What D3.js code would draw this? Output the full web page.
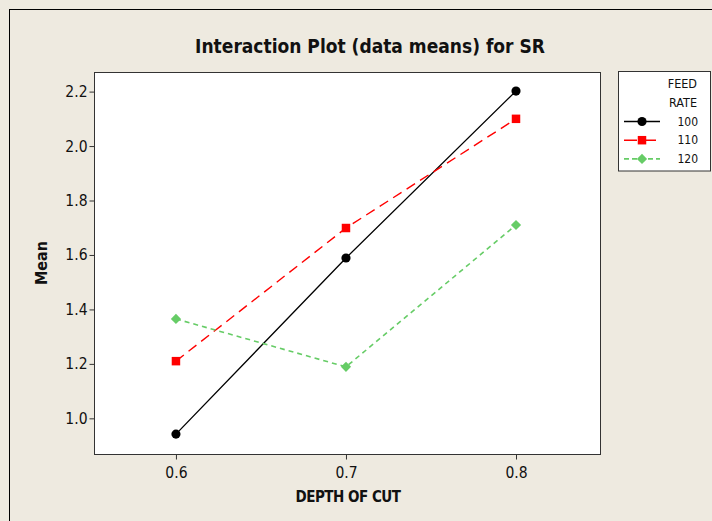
<!DOCTYPE html>
<html>
<head>
<meta charset="utf-8">
<script src="https://cdn.jsdelivr.net/npm/d3@7"></script>
<style>
  body { margin: 0; background: #eeeae0; }
  svg { display: block; }
  text { font-family: "DejaVu Sans Condensed", "DejaVu Sans", sans-serif; fill: #111; }
</style>
</head>
<body>
<svg id="chart" width="712" height="521"></svg>
<script>
// data
const depths = [0.6, 0.7, 0.8];
const feedRates = ["100", "110", "120"];
const mean100 = [0.942, 1.589, 2.202];
const mean110 = [1.21, 1.699, 2.10];
const mean120 = [1.365, 1.189, 1.71];
const yTicks = [1.0, 1.2, 1.4, 1.6, 1.8, 2.0, 2.2];

const series = [
    { name: feedRates[0], values: mean100, color: "#000", dash: null, legendDash: null, shape: d3.symbolCircle, size: 66, rot: 0, width: 1.3 },
    { name: feedRates[1], values: mean110, color: "#ff0000", dash: "10,6", legendDash: "13,6", shape: d3.symbolSquare, size: 72, rot: 0, width: 1.4 },
    { name: feedRates[2], values: mean120, color: "#66cc66", dash: "5,4", legendDash: "5,3", shape: d3.symbolSquare, size: 52, rot: 45, width: 1.6 }
];

const svg = d3.select("#chart");
const plot = { left: 94, top: 72, right: 600, bottom: 454 };

// outer frame
svg.append("rect")
    .attr("x", 9.5).attr("y", 9.5)
    .attr("width", 712).attr("height", 521)
    .attr("fill", "#eeeae0").attr("stroke", "#000");

var x = d3.scaleLinear().domain([0.5518, 0.8494]).range([plot.left, plot.right]);
var y = d3.scaleLinear().domain([0.869, 2.272]).range([plot.bottom, plot.top]);

svg.append("rect")
    .attr("x", plot.left + 0.5).attr("y", plot.top + 0.5)
    .attr("width", plot.right - plot.left).attr("height", plot.bottom - plot.top)
    .attr("fill", "#fff").attr("stroke", "#333");

// axes
const xAxis = svg.append("g")
    .attr("transform", "translate(0," + (plot.bottom + 0.5) + ")")
    .call(d3.axisBottom(x).tickValues(depths).tickFormat(d3.format(".1f")).tickSize(5).tickSizeOuter(0));
const yAxis = svg.append("g")
    .attr("transform", "translate(" + (plot.left + 0.5) + ",0)")
    .call(d3.axisLeft(y).tickValues(yTicks).tickFormat(d3.format(".1f")).tickSize(5).tickSizeOuter(0));
[xAxis, yAxis].forEach(g => {
    g.attr("font-size", null).attr("font-family", null);
    g.select(".domain").remove();
    g.selectAll("line").attr("stroke", "#333");
    g.selectAll("text").style("font-size", "15.5px").attr("fill", "#222");
});
xAxis.selectAll("text").attr("dy", "1.0em");
yAxis.selectAll("text").attr("x", -7);

// titles
svg.append("text")
    .attr("x", 370).attr("y", 53)
    .attr("text-anchor", "middle")
    .style("font-size", "19px").style("font-weight", "bold")
    .text("Interaction Plot (data means) for SR");
svg.append("text")
    .attr("x", (plot.left + plot.right) / 2 + 1).attr("y", 502)
    .attr("text-anchor", "middle")
    .style("font-size", "15px").style("font-weight", "bold").style("letter-spacing", "-0.5px")
    .text("DEPTH OF CUT");
svg.append("text")
    .attr("transform", "translate(47," + (plot.top + plot.bottom) / 2 + ") rotate(-90)")
    .attr("text-anchor", "middle")
    .style("font-size", "16px").style("font-weight", "bold")
    .text("Mean");

// lines and markers
const line = d3.line().x((d, i) => x(depths[i])).y(d => y(d));
series.forEach(s => {
    svg.append("path")
        .attr("d", line(s.values))
        .attr("fill", "none")
        .attr("stroke", s.color)
        .attr("stroke-width", s.width)
        .attr("stroke-dasharray", s.dash);
    svg.selectAll(null)
        .data(s.values)
        .enter().append("path")
        .attr("transform", (d, i) => "translate(" + x(depths[i]) + "," + y(d) + ") rotate(" + s.rot + ")")
        .attr("d", d3.symbol().type(s.shape).size(s.size))
        .attr("fill", s.color);
});

// legend
const legend = svg.append("g");
legend.append("rect")
    .attr("x", 618.5).attr("y", 71.5).attr("width", 92).attr("height", 99.5)
    .attr("fill", "#fff").attr("stroke", "#333");
legend.append("text").attr("x", 697).attr("y", 88).attr("text-anchor", "end")
    .style("font-size", "12.5px").text("FEED");
legend.append("text").attr("x", 697).attr("y", 107).attr("text-anchor", "end")
    .style("font-size", "12.5px").text("RATE");
series.forEach((s, i) => {
    const ly = 121.5 + i * 18.7;
    legend.append("line")
        .attr("x1", 624).attr("x2", 660).attr("y1", ly).attr("y2", ly)
        .attr("stroke", s.color).attr("stroke-width", s.width)
        .attr("stroke-dasharray", s.legendDash);
    legend.append("path")
        .attr("transform", "translate(642," + ly + ") rotate(" + s.rot + ")")
        .attr("d", d3.symbol().type(s.shape).size(s.size))
        .attr("fill", s.color);
    legend.append("text").attr("x", 698).attr("y", ly + 4).attr("text-anchor", "end")
        .style("font-size", "12px").text(s.name);
});
</script>
</body>
</html>
